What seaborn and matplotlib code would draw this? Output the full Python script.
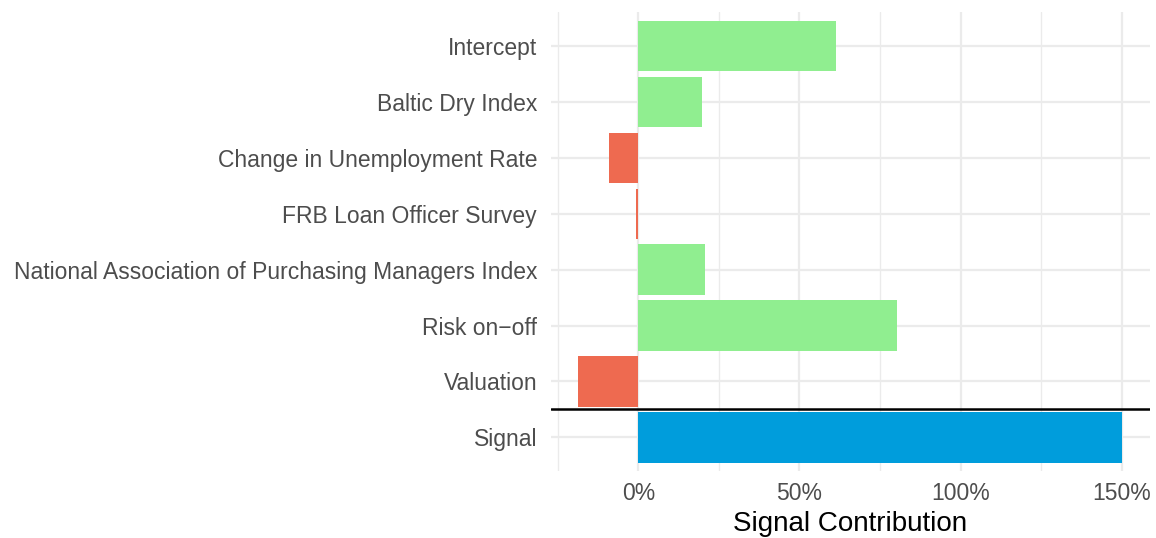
import matplotlib
matplotlib.use("Agg")
import matplotlib.pyplot as plt
import seaborn as sns
import pandas as pd
from matplotlib.ticker import FixedLocator, FuncFormatter

categories = ["Intercept", "Baltic Dry Index", "Change in Unemployment Rate",
              "FRB Loan Officer Survey",
              "National Association of Purchasing Managers Index",
              "Risk on\u2212off", "Valuation", "Signal"]
values = [61.3, 19.7, -9.1, -0.8, 20.7, 80.3, -18.7, 150.0]
kinds = ["pos", "pos", "neg", "neg", "pos", "pos", "neg", "total"]
palette = {"pos": "#90EE90", "neg": "#EE6A50", "total": "#009DDC"}

df = pd.DataFrame({"cat": categories, "val": values, "kind": kinds})

sns.set_theme(style="white")
plt.rcParams['font.family'] = ['Liberation Sans', 'DejaVu Sans']

W, H = 1156, 538
fig = plt.figure(figsize=(W / 100, H / 100), dpi=100)
left, right, top, bottom = 551, 1150, 12.3, 471
ax = fig.add_axes([left / W, 1 - bottom / H, (right - left) / W, (bottom - top) / H])

grid_c = "#EBEBEB"
for x in [-25, 25, 75, 125]:
    ax.axvline(x, color=grid_c, lw=1.0, zorder=0)
for x in [0, 50, 100, 150]:
    ax.axvline(x, color=grid_c, lw=1.6, zorder=0)
for i in range(len(categories)):
    ax.axhline(i, color=grid_c, lw=1.6, zorder=0)

sns.barplot(data=df, x="val", y="cat", hue="kind", palette=palette,
            dodge=False, width=0.9, legend=False, ax=ax, orient="h",
            saturation=1, linewidth=0, zorder=2)

ax.axhline(6.5, color="black", lw=1.8, zorder=3)

ax.set_xlim(-27.1, 158.8)
ax.set_ylim(7.6, -0.6)
ax.xaxis.set_major_locator(FixedLocator([0, 50, 100, 150]))
ax.xaxis.set_major_formatter(FuncFormatter(lambda v, p: f"{v:.0f}%"))
for s in ax.spines.values():
    s.set_visible(False)
ax.tick_params(axis="both", length=0, labelsize=16.5, colors="#4D4D4D")
ax.tick_params(axis="y", pad=10)
ax.tick_params(axis="x", pad=8)
ax.set_ylabel("")
ax.set_xlabel("Signal Contribution", fontsize=20, color="black", labelpad=4.5)
ax.grid(False)

fig.savefig("out.png", dpi=100)
